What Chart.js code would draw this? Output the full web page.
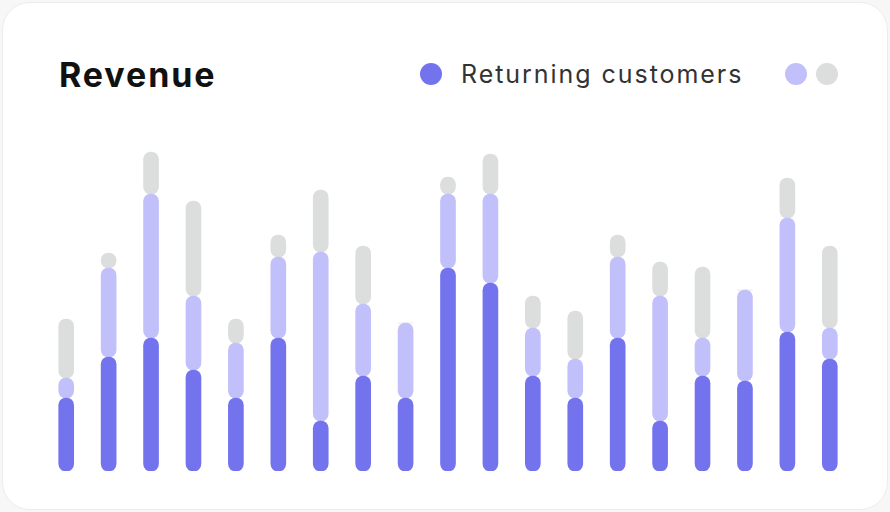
<!DOCTYPE html>
<html>
<head>
<meta charset="utf-8">
<script src="https://cdn.jsdelivr.net/npm/chart.js@4.4.1/dist/chart.umd.min.js"></script>
<style>
  html, body { margin: 0; padding: 0; background: #f7f7f7; }
  body { width: 890px; height: 512px; position: relative; overflow: hidden; font-family: "Inter", "Noto Sans", sans-serif; }
  .card {
    position: absolute; left: 2px; top: 2px; width: 884px; height: 506px;
    background: #fff; border: 1px solid #ececec; border-radius: 28px;
  }
  .title {
    position: absolute; left: 59px; top: 55px; margin: 0;
    font-size: 34px; font-weight: 700; line-height: 40px; color: #111; letter-spacing: 1.9px;
  }
  .legend { position: absolute; top: 58px; left: 420px; height: 32px; }
  .legend .dot { position: absolute; top: 5px; width: 22px; height: 22px; border-radius: 50%; }
  .legend .label {
    position: absolute; left: 41px; top: 0; font-size: 25px; line-height: 32px; color: #333;
    white-space: nowrap; letter-spacing: 1.95px;
  }
  #chart { position: absolute; left: 0; top: 0; }
</style>
</head>
<body>
<div class="card"></div>
<h1 class="title">Revenue</h1>
<div class="legend" id="legend"></div>
<canvas id="chart" width="890" height="512"></canvas>

<script>
// =========================
// DATA
// =========================
const categories = ["1", "2", "3", "4", "5", "6", "7", "8", "9", "10",
                    "11", "12", "13", "14", "15", "16", "17", "18", "19"];

const returningCustomers = [36.5, 57, 66.5, 50.5, 36.5, 66.5, 25, 47.5, 36.5, 101.5,
                            94, 47.5, 36.5, 66.5, 25, 47.5, 45, 69.5, 56];
const secondSeries = [10, 44.5, 72, 37, 27.5, 40.5, 84.5, 36, 37.5, 37,
                      44.5, 24, 19.5, 40.5, 62.5, 19, 45.5, 57, 15.5];
const thirdSeries = [29.5, 7.5, 21, 47.5, 12, 11, 31, 29, 0, 8.5,
                     20, 16, 24, 11, 17, 35.5, 0, 20, 41];

const seriesLabels = ["Returning customers", "", ""];
const seriesColors = ["#7273ed", "#c1c0fb", "#dcdddd"];

// =========================
// LEGEND (html)
// =========================
const legend = document.getElementById("legend");
const dotX = [0, 365, 396];
seriesLabels.forEach((label, i) => {
  const dot = document.createElement("span");
  dot.className = "dot";
  dot.style.left = dotX[i] + "px";
  dot.style.background = seriesColors[i];
  legend.appendChild(dot);
  if (label) {
    const txt = document.createElement("span");
    txt.className = "label";
    txt.innerText = label;
    legend.appendChild(txt);
  }
});

// =========================
// CHART
// =========================
const radius = { topLeft: 8, topRight: 8, bottomLeft: 8, bottomRight: 8 };

function makeSet(label, data, color) {
  return {
    label: label,
    data: data,
    backgroundColor: color,
    borderWidth: 0,
    borderRadius: radius,
    borderSkipped: false,
    barThickness: 15
  };
}

const ctx = document.getElementById("chart").getContext("2d");

const revenueChart = new Chart(ctx, {
  type: "bar",
  data: {
    labels: categories,
    datasets: [
      makeSet(seriesLabels[0], returningCustomers, seriesColors[0]),
      makeSet("New customers", secondSeries, seriesColors[1]),
      makeSet("Other", thirdSeries, seriesColors[2])
    ]
  },
  options: {
    responsive: false,
    animation: false,
    layout: {
      padding: { left: 45, right: 39, top: 151, bottom: 41 }
    },
    plugins: {
      legend: { display: false },
      tooltip: { enabled: false }
    },
    scales: {
      x: { stacked: true, display: false, grid: { display: false } },
      y: { stacked: true, display: false, min: 0, max: 160, grid: { display: false } }
    }
  }
});
</script>
</body>
</html>
